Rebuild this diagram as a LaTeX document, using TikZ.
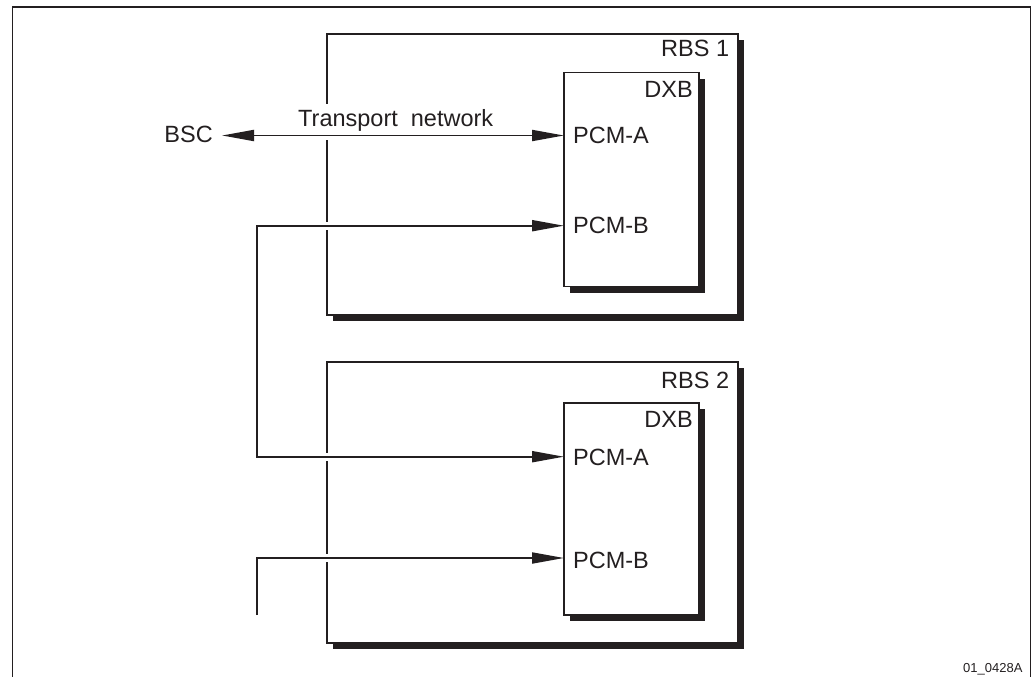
\documentclass[tikz,border=0pt]{standalone}
\usepackage{fontspec}
\setmainfont{Liberation Sans}
\usetikzlibrary{arrows.meta,shadows,calc}
\definecolor{ink}{RGB}{35,31,32}
\tikzset{
  frameline/.style={draw=ink, line width=1.4pt},
  rbsbox/.style={rectangle, draw=ink, line width=1.7pt, fill=white, inner sep=0pt, outer sep=0pt,
    anchor=north west, minimum width=411.6pt, minimum height=281pt,
    drop shadow={shadow xshift=6pt, shadow yshift=-6pt, fill=ink, opacity=1}},
  dxbbox/.style={rectangle, draw=ink, line width=1.2pt, fill=white, inner sep=0pt, outer sep=0pt,
    anchor=north west, minimum width=135pt,
    drop shadow={shadow xshift=6pt, shadow yshift=-6pt, fill=ink, opacity=1}},
  lbl/.style={text=ink, inner sep=0pt, font=\fontsize{23.5}{27}\selectfont},
  conn/.style={draw=ink, line width=1.9pt, line join=miter,
    arrows={Triangle[length=32pt,width=11pt]-Triangle[length=32pt,width=11pt]},
    preaction={draw=white, line width=8pt, arrows=-, shorten >=4pt, shorten <=4pt}},
  conn1/.style={draw=ink, line width=1.9pt,
    arrows={-Triangle[length=32pt,width=11pt]},
    preaction={draw=white, line width=8pt, arrows=-, shorten >=4pt}},
}
\begin{document}
\begin{tikzpicture}[x=1pt,y=-1pt]
\useasboundingbox (0,0) rectangle (1036,677);
% outer frame (open at the bottom)
\draw[frameline] (12.7,677) -- (12.7,7) -- (1030.5,7) -- (1030.5,677);

% RBS boxes
\node[rbsbox] (rbs1) at (326.7,34) {};
\node[rbsbox] (rbs2) at (326.7,362) {};
\node[lbl, anchor=base east] (rbs1l) at ($(rbs1.north east)+(-9,23)$) {RBS 1};
\node[lbl, anchor=base east] (rbs2l) at ($(rbs2.north east)+(-9,26)$) {RBS 2};

% DXB boxes
\node[dxbbox, minimum height=214pt] (dxb1) at (564,72.7) {};
\node[dxbbox, minimum height=212pt] (dxb2) at (564,403) {};
\node[lbl, anchor=base east] (dxb1l) at ($(dxb1.north east)+(-6,24.3)$) {DXB};
\node[lbl, anchor=base east] (dxb2l) at ($(dxb2.north east)+(-6,24)$) {DXB};

% ports
\coordinate (pA1) at ($(dxb1.north west)+(0,62.8)$);
\coordinate (pB1) at ($(dxb1.north west)+(0,153)$);
\coordinate (pA2) at ($(dxb2.north west)+(0,53.7)$);
\coordinate (pB2) at ($(dxb2.north west)+(0,155)$);

\node[lbl, anchor=base west] (pcma1) at ($(pA1)+(9,7.5)$) {PCM-A};
\node[lbl, anchor=base west] (pcmb1) at ($(pB1)+(9,7.5)$) {PCM-B};
\node[lbl, anchor=base west] (pcma2) at ($(pA2)+(9,8.8)$) {PCM-A};
\node[lbl, anchor=base west] (pcmb2) at ($(pB2)+(9,10)$) {PCM-B};

% BSC and transport network
\node[lbl, anchor=base east] (bsc) at (213,142) {BSC};
\coordinate (bscR) at ($(bsc.east)+(9,0)$);
\node[lbl, fill=white, inner sep=5pt, anchor=base west] (tn) at (293,126.5) {Transport\ \ network};

\draw[conn] (bscR |- pA1) -- (pA1);

% loop between RBS 1 PCM-B and RBS 2 PCM-A
\coordinate (c1) at (256.7,225.7);
\coordinate (c2) at (256.7,456.7);
\draw[conn] (pB1) -- (c1 |- pB1) -- (c2 |- pA2) -- (pA2);

% free line into RBS 2 PCM-B
\coordinate (stub) at (256.7,615);
\draw[conn1] (stub) |- (pB2);

% figure code
\node[text=ink, inner sep=0pt, anchor=base east, font=\fontsize{13}{15}\selectfont] (code) at (1022.7,672) {01\_0428A};
\end{tikzpicture}
\end{document}
